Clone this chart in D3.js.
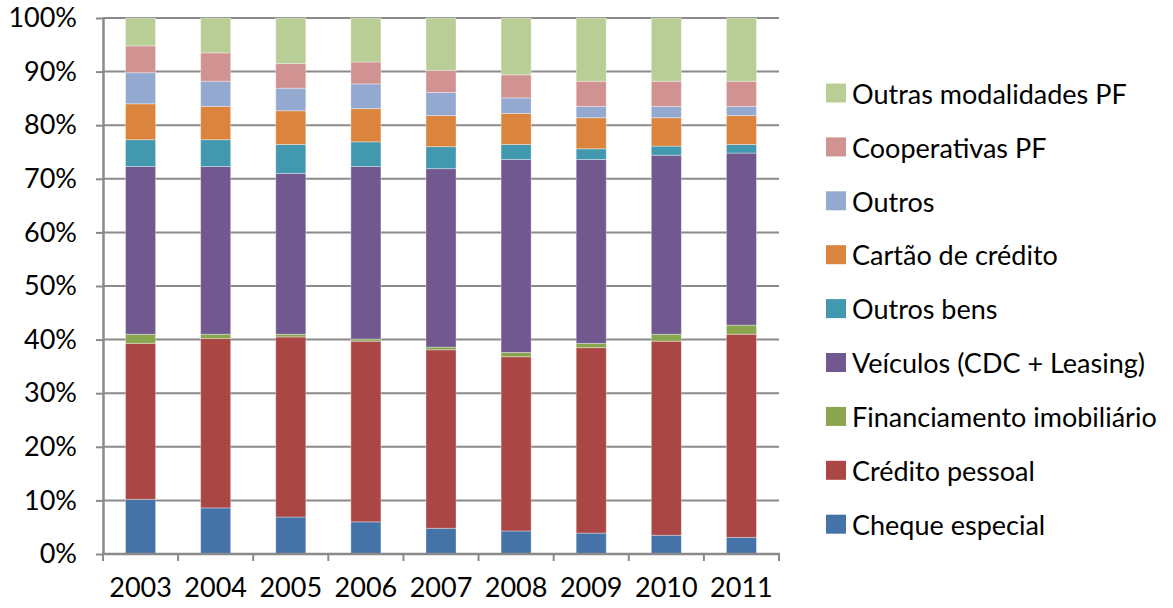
<!DOCTYPE html>
<html>
<head>
<meta charset="utf-8">
<script src="https://cdn.jsdelivr.net/npm/d3@7"></script>
<style>
  html, body { margin: 0; padding: 0; background: #fff; }
  svg { display: block; }
  text { font-family: Lato, "Open Sans", sans-serif; fill: #000; }
</style>
</head>
<body>
<svg id="chart" width="1173" height="608"></svg>
<script>
// Composição do crédito às pessoas físicas (% do total), 2003–2011
const years = ["2003", "2004", "2005", "2006", "2007", "2008", "2009", "2010", "2011"];

const chequeEspecial           = [10.2,  8.6,  6.9,  6.0,  4.8,  4.3,  3.9,  3.5,  3.1];
const creditoPessoal           = [29.1, 31.6, 33.6, 33.7, 33.3, 32.5, 34.6, 36.2, 37.9];
const financiamentoImobiliario = [ 1.7,  0.8,  0.5,  0.4,  0.5,  0.8,  0.8,  1.3,  1.7];
const veiculos                 = [31.3, 31.3, 30.0, 32.2, 33.3, 36.0, 34.3, 33.4, 32.1];
const outrosBens               = [ 5.0,  5.0,  5.4,  4.6,  4.1,  2.8,  2.0,  1.7,  1.6];
const cartaoCredito            = [ 6.7,  6.2,  6.3,  6.2,  5.8,  5.8,  5.8,  5.3,  5.4];
const outros                   = [ 5.8,  4.7,  4.2,  4.6,  4.3,  2.9,  2.1,  2.1,  1.7];
const cooperativasPF           = [ 5.0,  5.3,  4.6,  4.1,  4.1,  4.3,  4.7,  4.7,  4.7];
const outrasModalidadesPF      = [ 5.2,  6.5,  8.5,  8.2,  9.8, 10.6, 11.8, 11.8, 11.8];

const yTicks = [0, 0.1, 0.2, 0.3, 0.4, 0.5, 0.6, 0.7, 0.8, 0.9, 1.0];

// Series in stacking order (bottom to top)
const series = [
  { key: "Cheque especial",            values: chequeEspecial,           color: "#4572A7" },
  { key: "Crédito pessoal",            values: creditoPessoal,           color: "#AA4643" },
  { key: "Financiamento imobiliário",  values: financiamentoImobiliario, color: "#89A54E" },
  { key: "Veículos (CDC + Leasing)",   values: veiculos,                 color: "#71588F" },
  { key: "Outros bens",                values: outrosBens,               color: "#4198AF" },
  { key: "Cartão de crédito",          values: cartaoCredito,            color: "#DB843D" },
  { key: "Outros",                     values: outros,                   color: "#93A9CF" },
  { key: "Cooperativas PF",            values: cooperativasPF,           color: "#D19392" },
  { key: "Outras modalidades PF",      values: outrasModalidadesPF,      color: "#B9CD96" }
];

const rows = years.map((y, i) => {
  const r = { year: y };
  series.forEach(s => { r[s.key] = s.values[i]; });
  return r;
});

const stacked = d3.stack()
  .keys(series.map(s => s.key))
  .offset(d3.stackOffsetExpand)(rows);

const svg = d3.select("#chart");
const plot = { left: 103, right: 779, top: 18, bottom: 554 };
const gridColor = "#8a8a8a";
const fontSize = 27;

const x = d3.scaleBand()
  .domain(years)
  .range([plot.left, plot.right])
  .paddingInner(0.6)
  .paddingOuter(0.3);

const y = d3.scaleLinear().domain([0, 1]).range([plot.bottom, plot.top]);

// horizontal gridlines
svg.append("g")
  .selectAll("line")
  .data(yTicks.filter(t => t > 0))
  .join("line")
  .attr("x1", plot.left).attr("x2", plot.right)
  .attr("y1", d => y(d)).attr("y2", d => y(d))
  .attr("stroke", gridColor).attr("stroke-width", 2);

// stacked bars
const color = d3.scaleOrdinal().domain(series.map(s => s.key)).range(series.map(s => s.color));

svg.append("g")
  .selectAll("g")
  .data(stacked)
  .join("g")
  .attr("fill", d => color(d.key))
  .selectAll("rect")
  .data(d => d)
  .join("rect")
  .attr("x", d => x(d.data.year))
  .attr("width", x.bandwidth())
  .attr("y", d => y(d[1]))
  .attr("height", d => y(d[0]) - y(d[1]))
  .attr("stroke", "rgba(255,255,255,0.35)")
  .attr("stroke-width", 1);

// y axis
const yAxis = svg.append("g")
  .attr("transform", `translate(${plot.left},0)`)
  .call(d3.axisLeft(y).tickValues(yTicks).tickFormat(d3.format(".0%")).tickSizeInner(7).tickSizeOuter(0).tickPadding(19));
yAxis.select(".domain").attr("stroke", gridColor).attr("stroke-width", 2.5);
yAxis.selectAll(".tick line").attr("stroke", gridColor).attr("stroke-width", 2);
yAxis.selectAll(".tick text").attr("font-size", fontSize).attr("font-family", "Lato, sans-serif").attr("fill", "#000");

// x axis with ticks on category boundaries
const xAxisG = svg.append("g").attr("transform", `translate(0,${plot.bottom})`);
xAxisG.append("line")
  .attr("x1", plot.left - 1).attr("x2", plot.right + 1)
  .attr("stroke", gridColor).attr("stroke-width", 2.5);
const step = x.step();
const boundaries = d3.range(years.length + 1).map(i => plot.left + i * step);
xAxisG.selectAll("line.tick")
  .data(boundaries)
  .join("line")
  .attr("class", "tick")
  .attr("x1", d => d).attr("x2", d => d)
  .attr("y1", 0).attr("y2", 7)
  .attr("stroke", gridColor).attr("stroke-width", 2);
xAxisG.selectAll("text")
  .data(years)
  .join("text")
  .attr("x", d => x(d) + x.bandwidth() / 2)
  .attr("y", 43)
  .attr("text-anchor", "middle")
  .attr("font-size", fontSize)
  .text(d => d);

// legend, top entry = top of stack
const legend = svg.append("g");
const legendItems = series.slice().reverse();
const item = legend.selectAll("g")
  .data(legendItems)
  .join("g")
  .attr("transform", (d, i) => `translate(826,${93 + i * 53.9})`);
item.append("rect")
  .attr("x", 0).attr("y", -9.5)
  .attr("width", 20).attr("height", 19)
  .attr("fill", d => d.color);
item.append("text")
  .attr("x", 26).attr("y", 1)
  .attr("dy", "0.36em")
  .attr("font-size", fontSize)
  .text(d => d.key);
</script>
</body>
</html>
